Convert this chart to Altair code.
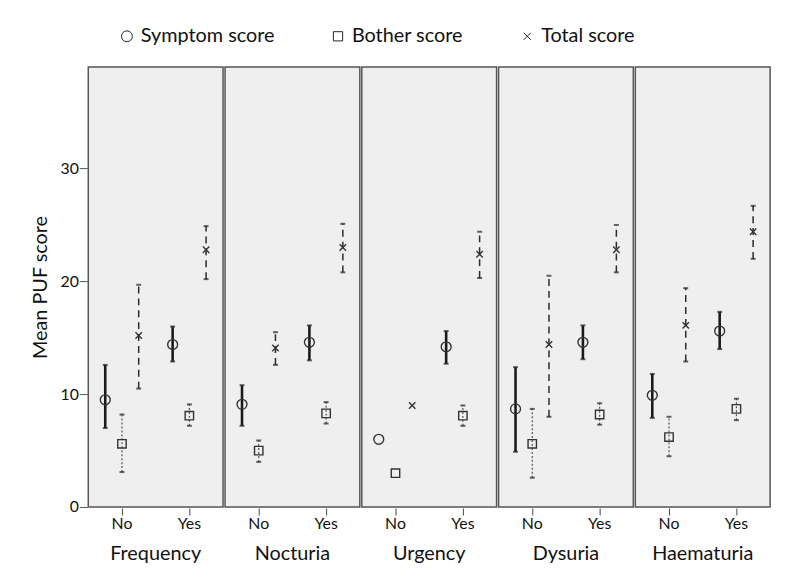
import altair as alt
import pandas as pd

conditions = ["Frequency", "Nocturia", "Urgency", "Dysuria", "Haematuria"]
groups = ["No", "Yes"]
series = ["Symptom score", "Bother score", "Total score"]

# order: Frequency No, Frequency Yes, Nocturia No, Nocturia Yes, ...
symptom_mean = [9.5, 14.4, 9.1, 14.6, 6.0, 14.2, 8.7, 14.6, 9.9, 15.6]
symptom_low = [7.0, 12.9, 7.2, 13.0, None, 12.7, 4.9, 13.1, 7.9, 14.0]
symptom_high = [12.6, 16.0, 10.8, 16.1, None, 15.6, 12.4, 16.1, 11.8, 17.3]
bother_mean = [5.6, 8.1, 5.0, 8.3, 3.0, 8.1, 5.6, 8.2, 6.2, 8.7]
bother_low = [3.1, 7.2, 4.0, 7.4, None, 7.2, 2.6, 7.3, 4.5, 7.7]
bother_high = [8.2, 9.1, 5.9, 9.3, None, 9.0, 8.7, 9.2, 8.0, 9.6]
total_mean = [15.2, 22.8, 14.1, 23.0, 9.0, 22.4, 14.4, 22.8, 16.1, 24.4]
total_low = [10.5, 20.2, 12.6, 20.8, None, 20.3, 8.0, 20.8, 12.9, 22.0]
total_high = [19.7, 24.9, 15.5, 25.1, None, 24.4, 20.5, 25.0, 19.4, 26.7]

stats = {
    "Symptom score": (symptom_mean, symptom_low, symptom_high),
    "Bother score": (bother_mean, bother_low, bother_high),
    "Total score": (total_mean, total_low, total_high),
}

rows = []
for ci, cond in enumerate(conditions):
    for gi, grp in enumerate(groups):
        k = ci * 2 + gi
        for s in series:
            m, lo, hi = stats[s]
            rows.append({"condition": cond, "group": grp, "series": s,
                         "mean": m[k], "low": lo[k], "high": hi[k]})
df = pd.DataFrame(rows)

FONT = "Lato"
square_path = "M-0.85,-0.85H0.85V0.85H-0.85Z"
x_path = "M-0.65,-0.65L0.65,0.65M-0.65,0.65L0.65,-0.65"

x_enc = alt.X("group:N", sort=groups,
              scale=alt.Scale(paddingInner=0, paddingOuter=0),
              axis=alt.Axis(title=None, labelAngle=0, domain=False, ticks=True,
                            tickSize=7, tickColor="#444", bandPosition=0.5,
                            labelFontSize=16, labelColor="#111", labelFont=FONT,
                            labelPadding=1))
xo_enc = alt.XOffset("series:N", sort=series,
                     scale=alt.Scale(domain=series, paddingInner=0, paddingOuter=0.515))
y_scale = alt.Scale(domain=[0, 39], nice=False)
y_axis = alt.Axis(values=[0, 10, 20, 30], title="Mean PUF score", grid=False,
                  domain=False, tickSize=8, tickColor="#555", tickWidth=1,
                  labelFontSize=16, labelFont=FONT, labelColor="#111", labelPadding=1,
                  titleFontSize=20, titleFont=FONT, titleFontWeight="normal",
                  titleColor="#111", titlePadding=10)

base = alt.Chart(df)

rule_styles = {
    "Symptom score": dict(strokeWidth=2.6, color="#1a1a1a"),
    "Bother score": dict(strokeWidth=1.1, color="#444", strokeDash=[2, 2]),
    "Total score": dict(strokeWidth=1.5, color="#2a2a2a", strokeDash=[7, 5]),
}

layers = []
for s in series:
    sub = base.transform_filter(alt.datum.series == s).transform_filter("isValid(datum.low)")
    layers.append(sub.mark_rule(**rule_styles[s]).encode(
        x=x_enc, xOffset=xo_enc,
        y=alt.Y("low:Q", scale=y_scale, axis=y_axis),
        y2="high:Q"))

caps_lo = base.transform_filter("isValid(datum.low)").mark_tick(
    color="#222", thickness=2, size=5).encode(
    x=x_enc, xOffset=xo_enc, y=alt.Y("low:Q", scale=y_scale))
caps_hi = base.transform_filter("isValid(datum.high)").mark_tick(
    color="#222", thickness=2, size=5).encode(
    x=x_enc, xOffset=xo_enc, y=alt.Y("high:Q", scale=y_scale))

points = base.mark_point(filled=False, color="#333", strokeWidth=1.4, opacity=1,
                         size=100).encode(
    x=x_enc, xOffset=xo_enc,
    y=alt.Y("mean:Q", scale=y_scale),
    shape=alt.Shape("series:N", sort=series,
                    scale=alt.Scale(domain=series, range=["circle", square_path, x_path]),
                    legend=alt.Legend(title=None, orient="none", direction="horizontal",
                                      legendX=29, legendY=-41,
                                      labelFontSize=20, labelFont=FONT,
                                      labelColor="#111", columnPadding=54,
                                      symbolSize=120, symbolStrokeWidth=1,
                                      symbolStrokeColor="#222", symbolFillColor="transparent",
                                      labelOffset=4)),
)

layer = alt.layer(*layers, caps_lo, caps_hi, points).properties(width=136, height=444)

chart = layer.facet(
    column=alt.Column("condition:N", sort=conditions,
                      header=alt.Header(title=None, labelOrient="bottom",
                                        labelFontSize=20, labelFont=FONT,
                                        labelColor="#111", labelPadding=12)),
    spacing=0,
).configure(
    background="white", padding={"left": 22, "top": 16, "right": 10, "bottom": 6}
).configure_view(
    fill="#efefef", stroke="#555", strokeWidth=1.5
)

chart.save("out.html", embed_options={"renderer": "svg", "actions": False})
